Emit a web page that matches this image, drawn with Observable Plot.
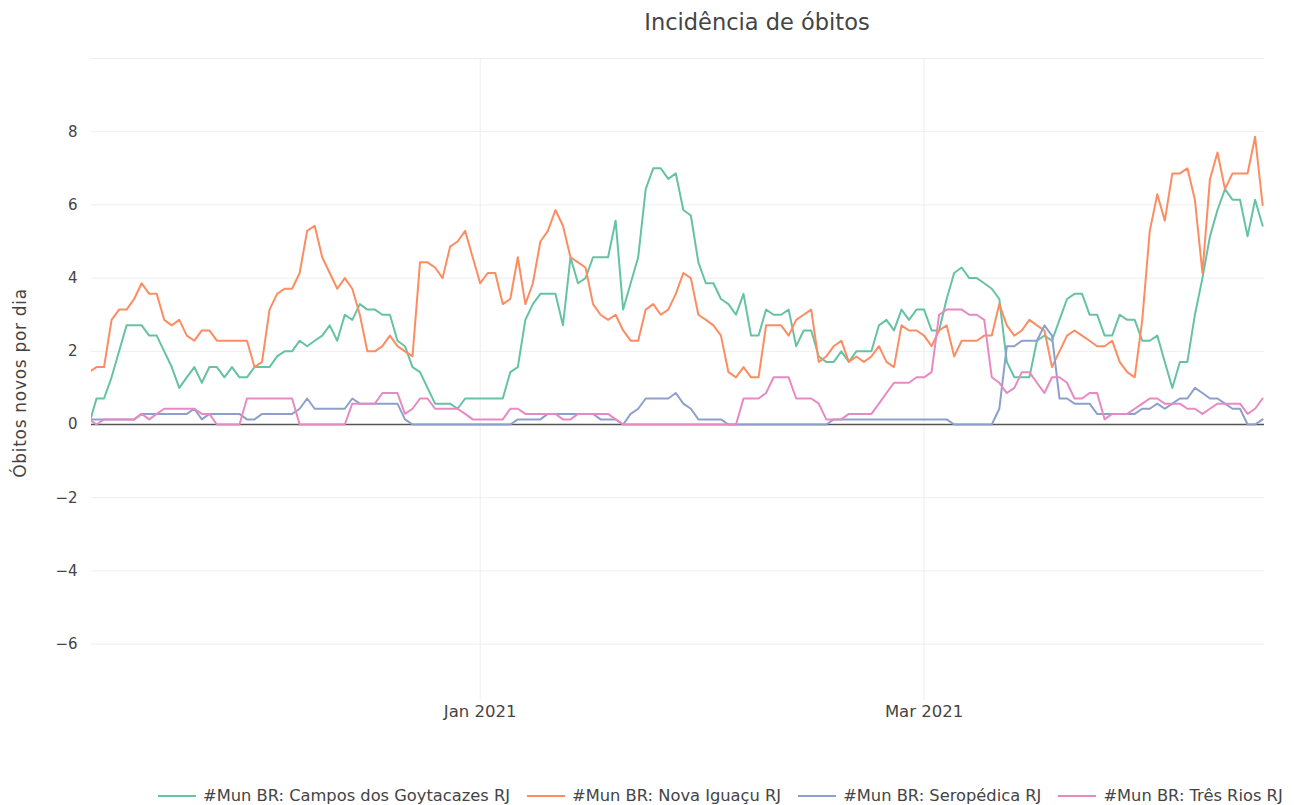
<!DOCTYPE html>
<html>
<head>
<meta charset="utf-8">
<script src="https://cdn.jsdelivr.net/npm/d3@7"></script>
<script src="https://cdn.jsdelivr.net/npm/@observablehq/plot@0.6"></script>
<style>
  body { margin: 0; background: #fff; font-family: "DejaVu Sans", Verdana, sans-serif; }
  #wrap { position: relative; width: 1294px; height: 805px; overflow: hidden; }
  #chart { position: absolute; left: 0; top: 0; }
  #title { position: absolute; top: 8px; left: 757px; transform: translateX(-50%); font-size: 22.5px; color: #444; white-space: nowrap; line-height: 28px; }
  #ylab { position: absolute; left: 20px; top: 383px; transform: translate(-50%, -50%) rotate(-90deg); font-size: 17px; color: #444; white-space: nowrap; letter-spacing: 0.7px; }
  #legend { position: absolute; top: 786px; left: 158px; display: flex; gap: 17px; font-size: 16.3px; line-height: 20px; color: #444; white-space: nowrap; }
  .item { display: flex; align-items: center; gap: 7px; }
  .swatch { width: 38px; height: 2px; }
</style>
</head>
<body>
<div id="wrap">
  <div id="chart"></div>
  <div id="title">Incidência de óbitos</div>
  <div id="ylab">Óbitos novos por dia</div>
  <div id="legend"></div>
</div>
<script>
// ---- Data (7-day averages of daily deaths), daily from 2020-11-10 to 2021-04-15 ----
const seriesNames = [
  "#Mun BR: Campos dos Goytacazes RJ",
  "#Mun BR: Nova Iguaçu RJ",
  "#Mun BR: Seropédica RJ",
  "#Mun BR: Três Rios RJ"
];
const seriesColors = ["#66c2a5", "#fc8d62", "#8da0cb", "#e78ac3"];

const firstDate = "2020-11-10";
const lastDate = "2021-04-15";

const campos = [
  // Nov 10-30
  0, 0.71, 0.71, 1.29, 2.0, 2.71, 2.71, 2.71, 2.43, 2.43, 2.0, 1.57, 1.0, 1.29, 1.57, 1.14, 1.57, 1.57, 1.29, 1.57, 1.29,
  // Dec
  1.29, 1.57, 1.57, 1.57, 1.86, 2.0, 2.0, 2.29, 2.14, 2.29, 2.43, 2.71, 2.29, 3.0, 2.86, 3.29, 3.14, 3.14, 3.0, 3.0, 2.29, 2.14, 1.57, 1.43, 1.0, 0.57, 0.57, 0.57, 0.43, 0.71, 0.71,
  // Jan
  0.71, 0.71, 0.71, 0.71, 1.43, 1.57, 2.86, 3.29, 3.57, 3.57, 3.57, 2.71, 4.57, 3.86, 4.0, 4.57, 4.57, 4.57, 5.57, 3.14, 3.86, 4.57, 6.43, 7.0, 7.0, 6.71, 6.86, 5.86, 5.71, 4.43, 3.86,
  // Feb
  3.86, 3.43, 3.29, 3.0, 3.57, 2.43, 2.43, 3.14, 3.0, 3.0, 3.14, 2.14, 2.57, 2.57, 1.86, 1.71, 1.71, 2.0, 1.71, 2.0, 2.0, 2.0, 2.71, 2.86, 2.57, 3.14, 2.86, 3.14,
  // Mar
  3.14, 2.57, 2.57, 3.43, 4.14, 4.29, 4.0, 4.0, 3.86, 3.71, 3.43, 1.71, 1.29, 1.29, 1.29, 2.29, 2.43, 2.29, 2.86, 3.43, 3.57, 3.57, 3.0, 3.0, 2.43, 2.43, 3.0, 2.86, 2.86, 2.29, 2.29,
  // Apr 1-15
  2.43, 1.71, 1.0, 1.71, 1.71, 3.0, 4.0, 5.14, 5.86, 6.43, 6.14, 6.14, 5.14, 6.14, 5.43
];

const novaIguacu = [
  // Nov 10-30
  1.43, 1.57, 1.57, 2.86, 3.14, 3.14, 3.43, 3.86, 3.57, 3.57, 2.86, 2.71, 2.86, 2.43, 2.29, 2.57, 2.57, 2.29, 2.29, 2.29, 2.29,
  // Dec
  2.29, 1.57, 1.71, 3.14, 3.57, 3.71, 3.71, 4.14, 5.29, 5.43, 4.57, 4.14, 3.71, 4.0, 3.71, 3.0, 2.0, 2.0, 2.14, 2.43, 2.14, 2.0, 1.86, 4.43, 4.43, 4.29, 4.0, 4.86, 5.0, 5.29, 4.57,
  // Jan
  3.86, 4.14, 4.14, 3.29, 3.43, 4.57, 3.29, 3.86, 5.0, 5.29, 5.86, 5.43, 4.57, 4.43, 4.29, 3.29, 3.0, 2.86, 3.0, 2.57, 2.29, 2.29, 3.14, 3.29, 3.0, 3.14, 3.57, 4.14, 4.0, 3.0, 2.86,
  // Feb
  2.71, 2.43, 1.43, 1.29, 1.57, 1.29, 1.29, 2.71, 2.71, 2.71, 2.43, 2.86, 3.0, 3.14, 1.71, 1.86, 2.14, 2.29, 1.71, 1.86, 1.71, 1.86, 2.14, 1.71, 1.57, 2.71, 2.57, 2.57,
  // Mar
  2.43, 2.14, 2.57, 2.71, 1.86, 2.29, 2.29, 2.29, 2.43, 2.43, 3.29, 2.71, 2.43, 2.57, 2.86, 2.71, 2.57, 1.57, 2.0, 2.43, 2.57, 2.43, 2.29, 2.14, 2.14, 2.29, 1.71, 1.43, 1.29, 2.86, 5.29,
  // Apr 1-15
  6.29, 5.57, 6.86, 6.86, 7.0, 6.14, 4.14, 6.71, 7.43, 6.43, 6.86, 6.86, 6.86, 7.86, 6.0
];

const seropedica = [
  // Nov 10-30
  0.14, 0.14, 0.14, 0.14, 0.14, 0.14, 0.14, 0.29, 0.29, 0.29, 0.29, 0.29, 0.29, 0.29, 0.43, 0.14, 0.29, 0.29, 0.29, 0.29, 0.29,
  // Dec
  0.14, 0.14, 0.29, 0.29, 0.29, 0.29, 0.29, 0.43, 0.71, 0.43, 0.43, 0.43, 0.43, 0.43, 0.71, 0.57, 0.57, 0.57, 0.57, 0.57, 0.57, 0.14, 0, 0, 0, 0, 0, 0, 0, 0, 0,
  // Jan
  0, 0, 0, 0, 0, 0.14, 0.14, 0.14, 0.14, 0.29, 0.29, 0.29, 0.29, 0.29, 0.29, 0.29, 0.14, 0.14, 0.14, 0, 0.29, 0.43, 0.71, 0.71, 0.71, 0.71, 0.86, 0.57, 0.43, 0.14, 0.14,
  // Feb
  0.14, 0.14, 0, 0, 0, 0, 0, 0, 0, 0, 0, 0, 0, 0, 0, 0, 0.14, 0.14, 0.14, 0.14, 0.14, 0.14, 0.14, 0.14, 0.14, 0.14, 0.14, 0.14,
  // Mar
  0.14, 0.14, 0.14, 0.14, 0, 0, 0, 0, 0, 0, 0.43, 2.14, 2.14, 2.29, 2.29, 2.29, 2.71, 2.43, 0.71, 0.71, 0.57, 0.57, 0.57, 0.29, 0.29, 0.29, 0.29, 0.29, 0.29, 0.43, 0.43,
  // Apr 1-15
  0.57, 0.43, 0.57, 0.71, 0.71, 1.0, 0.86, 0.71, 0.71, 0.57, 0.43, 0.43, 0, 0, 0.14
];

const tresRios = [
  // Nov 10-30
  0.14, 0, 0.14, 0.14, 0.14, 0.14, 0.14, 0.29, 0.14, 0.29, 0.43, 0.43, 0.43, 0.43, 0.43, 0.29, 0.29, 0, 0, 0, 0,
  // Dec
  0.71, 0.71, 0.71, 0.71, 0.71, 0.71, 0.71, 0, 0, 0, 0, 0, 0, 0, 0.57, 0.57, 0.57, 0.57, 0.86, 0.86, 0.86, 0.29, 0.43, 0.71, 0.71, 0.43, 0.43, 0.43, 0.43, 0.29, 0.14,
  // Jan
  0.14, 0.14, 0.14, 0.14, 0.43, 0.43, 0.29, 0.29, 0.29, 0.29, 0.29, 0.14, 0.14, 0.29, 0.29, 0.29, 0.29, 0.29, 0.14, 0, 0, 0, 0, 0, 0, 0, 0, 0, 0, 0, 0,
  // Feb
  0, 0, 0, 0, 0.71, 0.71, 0.71, 0.86, 1.29, 1.29, 1.29, 0.71, 0.71, 0.71, 0.57, 0.14, 0.14, 0.14, 0.29, 0.29, 0.29, 0.29, 0.57, 0.86, 1.14, 1.14, 1.14, 1.29,
  // Mar
  1.29, 1.43, 3.0, 3.14, 3.14, 3.14, 3.0, 3.0, 2.86, 1.29, 1.14, 0.86, 1.0, 1.43, 1.43, 1.14, 0.86, 1.29, 1.29, 1.14, 0.71, 0.71, 0.86, 0.86, 0.14, 0.29, 0.29, 0.29, 0.43, 0.57, 0.71,
  // Apr 1-15
  0.71, 0.57, 0.57, 0.57, 0.43, 0.43, 0.29, 0.43, 0.57, 0.57, 0.57, 0.57, 0.29, 0.43, 0.71
];

const xTickDates = ["2021-01-01", "2021-03-01"];
const yTickValues = [-6, -4, -2, 0, 2, 4, 6, 8];
const yGridValues = [-6, -4, -2, 2, 4, 6, 8, 10];

// ---- Build table ----
const dates = d3.utcDay.range(new Date(firstDate), d3.utcDay.offset(new Date(lastDate), 1));
const seriesValues = [campos, novaIguacu, seropedica, tresRios];
const rows = [];
seriesValues.forEach((vals, i) => {
  vals.forEach((v, j) => {
    if (j < dates.length) rows.push({date: dates[j], value: v, series: seriesNames[i]});
  });
});
const xTicks = xTickDates.map(d => new Date(d));

const chart = Plot.plot({
  width: 1294,
  height: 740,
  marginTop: 58,
  marginBottom: 40,
  marginLeft: 91,
  marginRight: 30,
  style: {fontFamily: "'DejaVu Sans', Verdana, sans-serif", fontSize: "16px", background: "transparent", overflow: "visible"},
  x: {type: "utc", domain: [new Date("2020-11-10T08:00Z"), new Date("2021-04-15T06:00Z")]},
  y: {domain: [-7.54, 10]},
  color: {domain: seriesNames, range: seriesColors},
  marks: [
    Plot.gridY(yGridValues, {stroke: "#eeeeee", strokeOpacity: 1, strokeWidth: 1}),
    Plot.gridX(xTicks, {stroke: "#eeeeee", strokeOpacity: 1, strokeWidth: 1}),
    Plot.ruleY([0], {stroke: "#555", strokeWidth: 1.5}),
    Plot.line(rows, {x: "date", y: "value", z: "series", stroke: "series", strokeWidth: 2, clip: true}),
    Plot.axisY(yTickValues, {tickSize: 0, tickPadding: 14, label: null, color: "#444", fontSize: 15}),
    Plot.axisX(xTicks, {tickSize: 0, tickPadding: 5, tickFormat: d3.utcFormat("%b %Y"), label: null, color: "#444", fontSize: 16.5})
  ]
});
document.getElementById("chart").appendChild(chart);

// ---- Legend ----
const legend = document.getElementById("legend");
seriesNames.forEach((name, i) => {
  const item = document.createElement("div");
  item.className = "item";
  const sw = document.createElement("div");
  sw.className = "swatch";
  sw.style.background = seriesColors[i];
  const t = document.createElement("span");
  t.textContent = name;
  item.appendChild(sw);
  item.appendChild(t);
  legend.appendChild(item);
});
</script>
</body>
</html>
